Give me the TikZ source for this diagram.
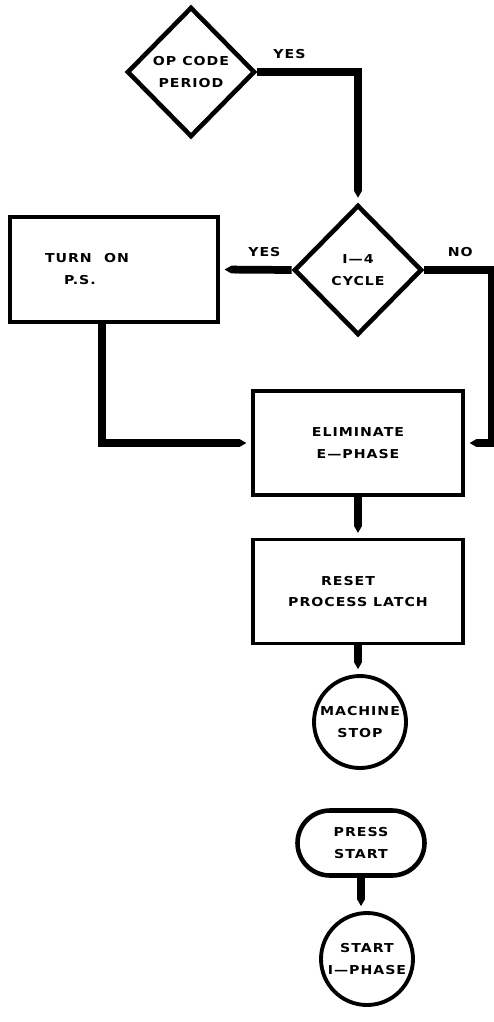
\documentclass[tikz,border=0pt]{standalone}
\usepackage{fontspec}
\newfontfamily\flowfont{DejaVu Sans}[FakeStretch=1.15,LetterSpace=8]
\usetikzlibrary{arrows.meta,shapes.geometric}

\begin{document}
\begin{tikzpicture}[
        every node/.style={font={\fontsize{7}{12.5}\flowfont\bfseries}, align=center},
        decision/.style={diamond, draw, line width=2.6pt, inner sep=0pt, minimum width=2.56cm, minimum height=2.6cm},
        process/.style={rectangle, draw, line width=1.9pt, minimum width=4.2cm, minimum height=2.08cm},
        connector/.style={circle, draw, line width=2.2pt, inner sep=0pt, minimum size=1.84cm},
        terminal/.style={rectangle, rounded corners=0.65cm, draw, line width=2.6pt, minimum width=2.54cm, minimum height=1.3cm},
        flow/.style={line width=4.4pt, -{Triangle Cap[cap angle=60]}, shorten >=0.1cm},
        lbl/.style={above=2pt}
    ]
        \useasboundingbox (0,0) rectangle (9.88,-20.44);

        % rozhodnuti
        \node[decision] (op) at (3.82,-1.44) {OP CODE\\PERIOD};
        \node[decision] (cyc) at (7.16,-5.4) {I—4\\CYCLE};

        % bloky
        \node[process, minimum width=4.16cm, minimum height=2.1cm, align=left, text width=2.76cm, inner xsep=0.7cm] (ps) at (2.28,-5.39) {TURN\quad ON\\\hspace*{0.38cm}P.S.};
        \node[process] (elim) at (7.16,-8.86) {ELIMINATE\\E—PHASE};
        \node[process] (reset) at (7.16,-11.83) {RESET\hspace*{0.4cm}\\PROCESS LATCH};
        \node[connector] (stop) at (7.2,-14.44) {MACHINE\\STOP};
        \node[terminal] (press) at (7.22,-16.86) {PRESS\\START};
        \node[connector] (start) at (7.34,-19.18) {START\\I—PHASE};

        % sipky
        \draw[flow] (op.east) -| node[lbl, pos=.16] {YES} (cyc.north);
        \draw[flow] (cyc.west) -- node[lbl, pos=.38] {YES} (ps.east);
        \draw[flow] (cyc.east) -- node[lbl, pos=.53] {NO} ++(1.36,0) |- (elim.east);
        \draw[flow] ([xshift=-0.24cm]ps.south) |- (elim.west);
        \draw[flow] (elim.south) -- (reset.north);
        \draw[flow] (reset.south) -- (reset.south |- stop.north);
        \draw[flow] (press.south) -- (press.south |- start.north);

    \end{tikzpicture}
\end{document}
